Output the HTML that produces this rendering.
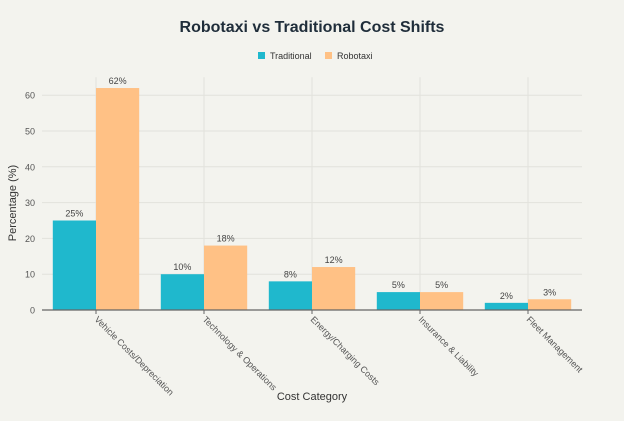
<!DOCTYPE html>
<html><head><meta charset="utf-8"><style>
body{margin:0;background:#f3f3ee;font-family:"Liberation Sans",sans-serif;}
svg text{font-family:"Liberation Sans",sans-serif;}
</style></head><body>
<svg id="c" width="624" height="416">
<rect width="624" height="416" fill="#f3f3ee"/>
<text x="312" y="32" text-anchor="middle" font-size="16" font-weight="bold" fill="#1f2d3a">Robotaxi vs Traditional Cost Shifts</text>
<g>
<g><rect x="258" y="52" width="7" height="7" fill="#1fb8cd"/><text x="270" y="59" font-size="9" fill="#333">Traditional</text></g>
<g><rect x="325" y="52" width="7" height="7" fill="#ffc185"/><text x="337" y="59" font-size="9" fill="#333">Robotaxi</text></g>
</g>
<text transform="translate(16,203) rotate(-90)" text-anchor="middle" font-size="11" fill="#333">Percentage (%)</text>
<text x="312" y="400" text-anchor="middle" font-size="11" fill="#333">Cost Category</text>
<g id="grid"></g><g id="bars"></g><g id="labels"></g>
</svg>
<script>
const categories=["Vehicle Costs/Depreciation","Technology & Operations","Energy/Charging Costs","Insurance & Liability","Fleet Management"];
const traditional=[25,10,8,5,2];
const robotaxi=[62,18,12,5,3];
const yTicks=[0,10,20,30,40,50,60];
const L=42,R=582,Y0=310,PX=3.58;
const band=(R-L)/categories.length;
const y=v=>Y0-v*PX;
const cx=i=>L+band*(i+0.5);
const ns="http://www.w3.org/2000/svg";
function mk(t,a,p){const e=document.createElementNS(ns,t);for(const k in a)e.setAttribute(k,a[k]);p.appendChild(e);return e;}
const g=document.getElementById('grid'),b=document.getElementById('bars'),lb=document.getElementById('labels');
yTicks.forEach(v=>{
 if(v>0){const l=mk('line',{x1:L,x2:R,y1:y(v),y2:y(v),stroke:'#e2e2dc','stroke-width':1},g);
 
 }
 const t=mk('text',{x:L-7,y:y(v)+3.5,'text-anchor':'end','font-size':9,fill:'#555'},g);t.textContent=v;
 
 
});
categories.forEach((c,i)=>{
 const x=cx(i);
 const l=mk('line',{x1:x,x2:x,y1:y(65),y2:Y0,stroke:'#e2e2dc','stroke-width':1},g);
 
 
 mk('line',{x1:x,x2:x,y1:Y0,y2:Y0+4,stroke:'#666'},g);
 const t=mk('text',{transform:`translate(${x-2},${Y0+10}) rotate(45)`,'font-size':9,fill:'#555'},g);t.textContent=c;
 
 
 const bw=band*0.4;
 [[traditional[i],'#1fb8cd',x-bw,'bar-traditional'],[robotaxi[i],'#ffc185',x,'bar-robotaxi']].forEach(([v,col,bx,n])=>{
  const r=mk('rect',{x:bx,y:y(v),width:bw,height:v*PX,fill:col},b);
  
  
  const t2=mk('text',{x:bx+bw/2,y:y(v)-4,'text-anchor':'middle','font-size':9,fill:'#444'},lb);t2.textContent=v+'%';
  
  
 });
});
const ax=mk('line',{x1:L,x2:R,y1:Y0,y2:Y0,stroke:'#666','stroke-width':1.2},lb);


</script>
</body></html>
